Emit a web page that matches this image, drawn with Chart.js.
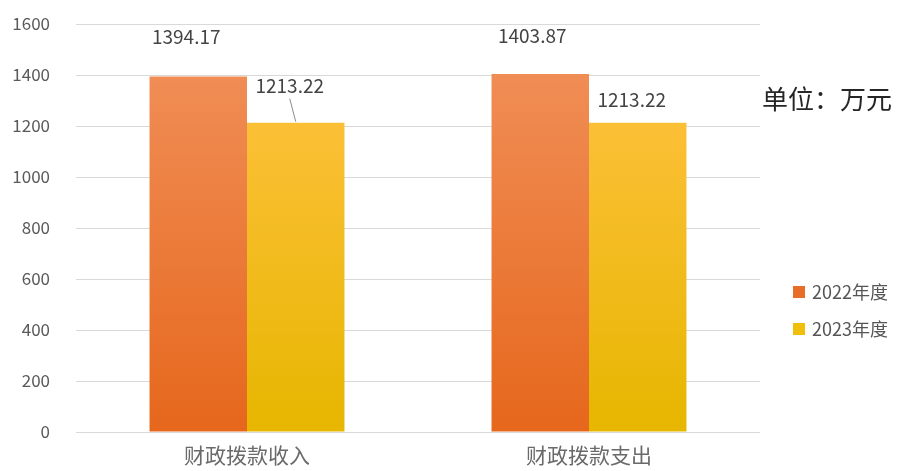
<!DOCTYPE html>
<html>
<head>
<meta charset="utf-8">
<script src="https://cdn.jsdelivr.net/npm/chart.js@4.4.1/dist/chart.umd.min.js"></script>
<style>
  html, body { margin: 0; padding: 0; background: #fff; }
  #wrap { width: 901px; height: 471px; position: relative; }
</style>
</head>
<body>
<div id="wrap"><canvas id="budgetChart"></canvas></div>
<script>
const categories = ['财政拨款收入', '财政拨款支出'];
const seriesNames = ['2022年度', '2023年度'];
const values2022 = [1394.17, 1403.87];
const values2023 = [1213.22, 1213.22];
const yTicks = [0, 200, 400, 600, 800, 1000, 1200, 1400, 1600];
const unitText = '单位：万元';

const FONT = "'Noto Sans CJK SC', 'Noto Sans', sans-serif";
const ctx = document.getElementById('budgetChart').getContext('2d');

function barGradient(context, top, bottom) {
    const area = context.chart.chartArea;
    if (!area) return bottom;
    const g = context.chart.ctx.createLinearGradient(0, area.top + 50, 0, area.bottom);
    g.addColorStop(0, top);
    g.addColorStop(1, bottom);
    return g;
}

// value labels, unit text and legend, drawn on top
const annotations = {
    id: 'annotations',
    afterDatasetsDraw(chart) {
        const c = chart.ctx;
        // label offsets from bar top centre: [dataset][index] = [dx, dy]
        const offsets = [[[-12, -40], [-8, -38]], [[-6, -37], [-6, -23]]];
        c.save();
        c.font = '19px ' + FONT;
        c.fillStyle = '#444';
        c.textAlign = 'center';
        c.textBaseline = 'middle';
        chart.data.datasets.forEach((ds, di) => {
            chart.getDatasetMeta(di).data.forEach((bar, i) => {
                const [dx, dy] = offsets[di][i];
                c.fillText(ds.data[i].toFixed(2), bar.x + dx, bar.y + dy);
            });
        });
        // leader line for the first 2023 label
        const b = chart.getDatasetMeta(1).data[0];
        c.strokeStyle = '#8c8c8c';
        c.lineWidth = 1;
        c.beginPath();
        c.moveTo(b.x - 6, b.y - 24);
        c.lineTo(b.x, b.y - 1);
        c.stroke();

        // unit text
        c.font = '26px ' + FONT;
        c.fillStyle = '#262626';
        c.textAlign = 'left';
        c.fillText(unitText, 762, 99);

        // legend
        const legendColors = ['#e86d28', '#f2be0c'];
        c.font = '18px ' + FONT;
        seriesNames.forEach((name, i) => {
            const y = 292 + i * 37;
            c.fillStyle = legendColors[i];
            c.fillRect(793, y - 6, 12, 12);
            c.fillStyle = '#555';
            c.fillText(name, 812, y);
        });
        c.restore();
    }
};

new Chart(ctx, {
    type: 'bar',
    data: {
        labels: categories,
        datasets: [
            {
                label: seriesNames[0],
                data: values2022,
                backgroundColor: c => barGradient(c, '#f08d55', '#e6671c')
            },
            {
                label: seriesNames[1],
                data: values2023,
                backgroundColor: c => barGradient(c, '#ffc13f', '#e6b600')
            }
        ]
    },
    options: {
        responsive: true,
        maintainAspectRatio: false,
        animation: false,
        layout: { padding: { top: 24, right: 141, bottom: 0, left: 0 } },
        datasets: { bar: { categoryPercentage: 0.57, barPercentage: 1 } },
        scales: {
            x: {
                grid: { display: false, drawTicks: false },
                border: { display: false },
                afterFit: axis => { axis.height = 39; },
                ticks: { color: '#6a6a6a', font: { family: FONT, size: 21 }, padding: 10 }
            },
            y: {
                min: 0,
                max: 1600,
                afterBuildTicks: axis => { axis.ticks = yTicks.map(v => ({ value: v })); },
                afterFit: axis => {
                    axis.width = 76;
                    axis.paddingTop = 0;
                    axis.paddingBottom = 0;
                },
                grid: { color: '#d9d9d9', drawTicks: false },
                border: { display: false },
                ticks: {
                    color: '#5a5a5a',
                    font: { family: FONT, size: 17 },
                    padding: 26,
                    callback: v => String(v)
                }
            }
        },
        plugins: { legend: { display: false }, tooltip: { enabled: false } }
    },
    plugins: [annotations]
});
</script>
</body>
</html>
